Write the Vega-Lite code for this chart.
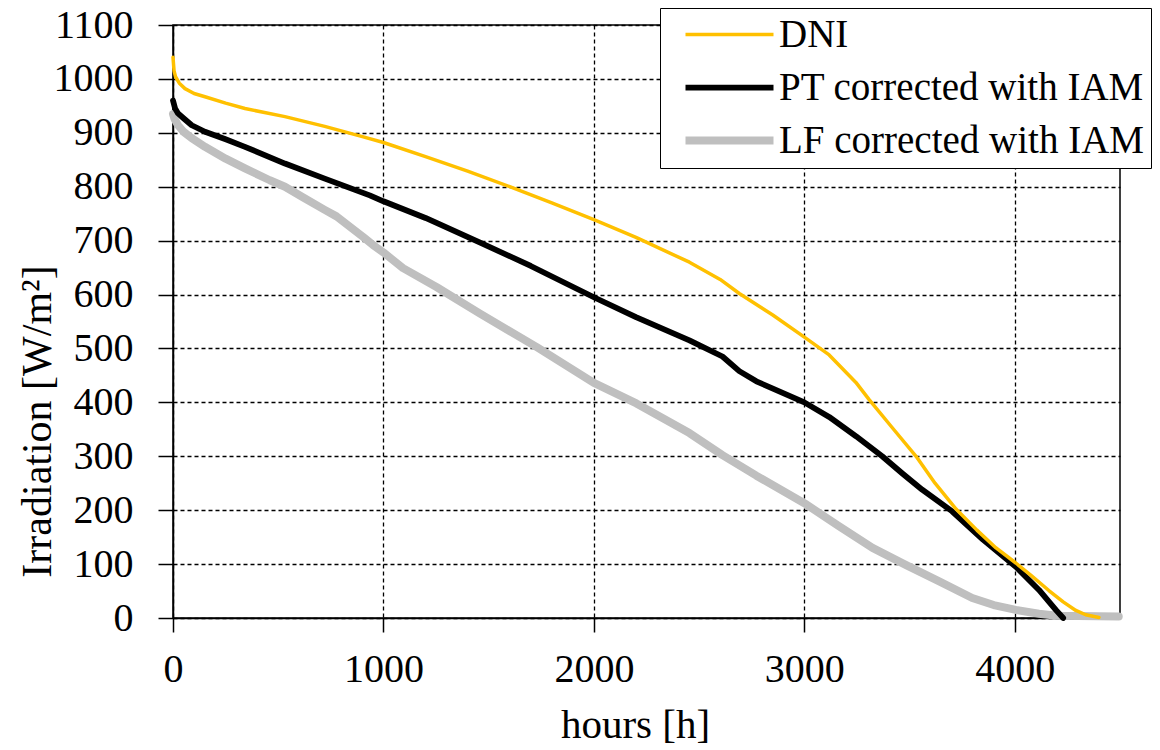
{
  "$schema": "https://vega.github.io/schema/vega-lite/v6.json",
  "width": 947,
  "height": 593,
  "autosize": {"type": "none"},
  "padding": {"left": 173, "top": 25, "right": 40, "bottom": 132},
  "background": "white",
  "config": {
    "font": "Liberation Serif",
    "view": {"stroke": "black", "strokeWidth": 1.5},
    "legend": {"labelFont": "Liberation Serif"},
    "axis": {
      "labelFont": "Liberation Serif",
      "titleFont": "Liberation Serif",
      "labelColor": "black",
      "titleColor": "black",
      "labelFontSize": 40,
      "titleFontSize": 40,
      "titleFontWeight": "normal",
      "domainColor": "black",
      "domainWidth": 1.5,
      "tickColor": "black",
      "tickWidth": 1.5,
      "tickSize": 15,
      "grid": true,
      "gridColor": "black",
      "gridDash": [4, 3],
      "gridWidth": 1.3,
      "gridOpacity": 1
    }
  },
  "data": {
    "values": [
      {"s": "LF corrected with IAM", "h": 0, "v": 935},
      {"s": "LF corrected with IAM", "h": 8, "v": 925},
      {"s": "LF corrected with IAM", "h": 24, "v": 914},
      {"s": "LF corrected with IAM", "h": 50, "v": 902},
      {"s": "LF corrected with IAM", "h": 89, "v": 890},
      {"s": "LF corrected with IAM", "h": 152, "v": 874},
      {"s": "LF corrected with IAM", "h": 250, "v": 852},
      {"s": "LF corrected with IAM", "h": 342, "v": 834},
      {"s": "LF corrected with IAM", "h": 460, "v": 812},
      {"s": "LF corrected with IAM", "h": 532, "v": 800},
      {"s": "LF corrected with IAM", "h": 619, "v": 780},
      {"s": "LF corrected with IAM", "h": 721, "v": 757},
      {"s": "LF corrected with IAM", "h": 777, "v": 745},
      {"s": "LF corrected with IAM", "h": 903, "v": 707},
      {"s": "LF corrected with IAM", "h": 950, "v": 692},
      {"s": "LF corrected with IAM", "h": 1000, "v": 678},
      {"s": "LF corrected with IAM", "h": 1093, "v": 649},
      {"s": "LF corrected with IAM", "h": 1252, "v": 614},
      {"s": "LF corrected with IAM", "h": 1457, "v": 565},
      {"s": "LF corrected with IAM", "h": 1727, "v": 503},
      {"s": "LF corrected with IAM", "h": 2000, "v": 436},
      {"s": "LF corrected with IAM", "h": 2202, "v": 398},
      {"s": "LF corrected with IAM", "h": 2454, "v": 343},
      {"s": "LF corrected with IAM", "h": 2611, "v": 302},
      {"s": "LF corrected with IAM", "h": 2772, "v": 264},
      {"s": "LF corrected with IAM", "h": 3000, "v": 213},
      {"s": "LF corrected with IAM", "h": 3166, "v": 170},
      {"s": "LF corrected with IAM", "h": 3324, "v": 130},
      {"s": "LF corrected with IAM", "h": 3484, "v": 98},
      {"s": "LF corrected with IAM", "h": 3641, "v": 68},
      {"s": "LF corrected with IAM", "h": 3798, "v": 37},
      {"s": "LF corrected with IAM", "h": 3900, "v": 24},
      {"s": "LF corrected with IAM", "h": 4005, "v": 15},
      {"s": "LF corrected with IAM", "h": 4115, "v": 8},
      {"s": "LF corrected with IAM", "h": 4200, "v": 4},
      {"s": "LF corrected with IAM", "h": 4494, "v": 3},
      {"s": "PT corrected with IAM", "h": 0, "v": 960},
      {"s": "PT corrected with IAM", "h": 10, "v": 945},
      {"s": "PT corrected with IAM", "h": 24, "v": 936},
      {"s": "PT corrected with IAM", "h": 50, "v": 927},
      {"s": "PT corrected with IAM", "h": 89, "v": 914},
      {"s": "PT corrected with IAM", "h": 152, "v": 902},
      {"s": "PT corrected with IAM", "h": 250, "v": 888},
      {"s": "PT corrected with IAM", "h": 342, "v": 874},
      {"s": "PT corrected with IAM", "h": 532, "v": 843},
      {"s": "PT corrected with IAM", "h": 721, "v": 815},
      {"s": "PT corrected with IAM", "h": 935, "v": 784},
      {"s": "PT corrected with IAM", "h": 1000, "v": 773},
      {"s": "PT corrected with IAM", "h": 1200, "v": 742},
      {"s": "PT corrected with IAM", "h": 1457, "v": 697},
      {"s": "PT corrected with IAM", "h": 1700, "v": 653},
      {"s": "PT corrected with IAM", "h": 2000, "v": 595},
      {"s": "PT corrected with IAM", "h": 2200, "v": 558},
      {"s": "PT corrected with IAM", "h": 2454, "v": 515},
      {"s": "PT corrected with IAM", "h": 2611, "v": 485},
      {"s": "PT corrected with IAM", "h": 2691, "v": 458},
      {"s": "PT corrected with IAM", "h": 2772, "v": 439},
      {"s": "PT corrected with IAM", "h": 2848, "v": 426},
      {"s": "PT corrected with IAM", "h": 3000, "v": 400},
      {"s": "PT corrected with IAM", "h": 3118, "v": 373},
      {"s": "PT corrected with IAM", "h": 3246, "v": 337},
      {"s": "PT corrected with IAM", "h": 3370, "v": 300},
      {"s": "PT corrected with IAM", "h": 3466, "v": 268},
      {"s": "PT corrected with IAM", "h": 3560, "v": 238},
      {"s": "PT corrected with IAM", "h": 3702, "v": 198},
      {"s": "PT corrected with IAM", "h": 3850, "v": 145},
      {"s": "PT corrected with IAM", "h": 4005, "v": 95},
      {"s": "PT corrected with IAM", "h": 4115, "v": 52},
      {"s": "PT corrected with IAM", "h": 4195, "v": 15},
      {"s": "PT corrected with IAM", "h": 4230, "v": 0},
      {"s": "DNI", "h": 0, "v": 1040},
      {"s": "DNI", "h": 5, "v": 1015},
      {"s": "DNI", "h": 12, "v": 1004},
      {"s": "DNI", "h": 30, "v": 992},
      {"s": "DNI", "h": 57, "v": 982},
      {"s": "DNI", "h": 100, "v": 973},
      {"s": "DNI", "h": 152, "v": 967},
      {"s": "DNI", "h": 250, "v": 955},
      {"s": "DNI", "h": 342, "v": 945},
      {"s": "DNI", "h": 532, "v": 930},
      {"s": "DNI", "h": 721, "v": 912},
      {"s": "DNI", "h": 900, "v": 893},
      {"s": "DNI", "h": 1000, "v": 882},
      {"s": "DNI", "h": 1200, "v": 856},
      {"s": "DNI", "h": 1400, "v": 829},
      {"s": "DNI", "h": 1600, "v": 800},
      {"s": "DNI", "h": 1800, "v": 770},
      {"s": "DNI", "h": 2000, "v": 739},
      {"s": "DNI", "h": 2200, "v": 706},
      {"s": "DNI", "h": 2454, "v": 660},
      {"s": "DNI", "h": 2600, "v": 628},
      {"s": "DNI", "h": 2691, "v": 602},
      {"s": "DNI", "h": 2850, "v": 562},
      {"s": "DNI", "h": 3000, "v": 521},
      {"s": "DNI", "h": 3118, "v": 488},
      {"s": "DNI", "h": 3245, "v": 437},
      {"s": "DNI", "h": 3308, "v": 405},
      {"s": "DNI", "h": 3420, "v": 352},
      {"s": "DNI", "h": 3531, "v": 300},
      {"s": "DNI", "h": 3621, "v": 250},
      {"s": "DNI", "h": 3721, "v": 202},
      {"s": "DNI", "h": 3820, "v": 163},
      {"s": "DNI", "h": 3911, "v": 130},
      {"s": "DNI", "h": 4005, "v": 102},
      {"s": "DNI", "h": 4080, "v": 78},
      {"s": "DNI", "h": 4162, "v": 51},
      {"s": "DNI", "h": 4230, "v": 30},
      {"s": "DNI", "h": 4290, "v": 14},
      {"s": "DNI", "h": 4337, "v": 6},
      {"s": "DNI", "h": 4400, "v": 1}
    ]
  },
  "mark": {"type": "line", "strokeCap": "round", "strokeJoin": "round"},
  "encoding": {
    "x": {
      "field": "h",
      "type": "quantitative",
      "scale": {"domain": [0, 4500], "nice": false, "zero": false},
      "axis": {
        "values": [0, 1000, 2000, 3000, 4000],
        "format": "d",
        "title": "hours [h]",
        "titleFontSize": 41,
        "titleX": 462,
        "titleY": 119,
        "titleAlign": "center",
        "titleBaseline": "alphabetic",
        "labelPadding": 17,
        "tickSize": 14,
        "labelFlush": false,
        "labelOverlap": false
      }
    },
    "y": {
      "field": "v",
      "type": "quantitative",
      "scale": {"domain": [0, 1100], "nice": false},
      "axis": {
        "values": [0, 100, 200, 300, 400, 500, 600, 700, 800, 900, 1000, 1100],
        "format": "d",
        "title": "Irradiation [W/m²]",
        "titleFontSize": 42,
        "titleX": -136,
        "titleY": 396,
        "titleAngle": -90,
        "titleAlign": "center",
        "titleBaseline": "middle",
        "labelPadding": 25,
        "labelOverlap": false,
        "labelFlush": false
      }
    },
    "color": {
      "field": "s",
      "type": "nominal",
      "scale": {
        "domain": ["DNI", "PT corrected with IAM", "LF corrected with IAM"],
        "range": ["#FFC000", "#000000", "#BFBFBF"]
      },
      "legend": {
        "title": null,
        "orient": "none",
        "legendX": 487,
        "legendY": -17,
        "direction": "vertical",
        "fillColor": "white",
        "strokeColor": "black",
        "padding": 7,
        "labelFont": "Liberation Serif",
        "labelFontSize": 39,
        "labelColor": "black",
        "labelLimit": 600,
        "rowPadding": 13,
        "symbolType": "M-4,0H4",
        "symbolSize": 484,
        "symbolOffset": 43,
        "labelOffset": 30,
        "symbolFillColor": "transparent"
      }
    },
    "strokeWidth": {
      "field": "s",
      "type": "nominal",
      "scale": {
        "domain": ["DNI", "PT corrected with IAM", "LF corrected with IAM"],
        "range": [3.5, 8, 8]
      },
      "legend": {
        "title": null,
        "orient": "none",
        "legendX": 487,
        "legendY": -17,
        "direction": "vertical",
        "fillColor": "white",
        "strokeColor": "black",
        "padding": 7,
        "labelFont": "Liberation Serif",
        "labelFontSize": 39,
        "labelColor": "black",
        "labelLimit": 600,
        "rowPadding": 13,
        "symbolType": "M-4,0H4",
        "symbolSize": 484,
        "symbolOffset": 43,
        "labelOffset": 30,
        "symbolFillColor": "transparent"
      }
    }
  }
}
